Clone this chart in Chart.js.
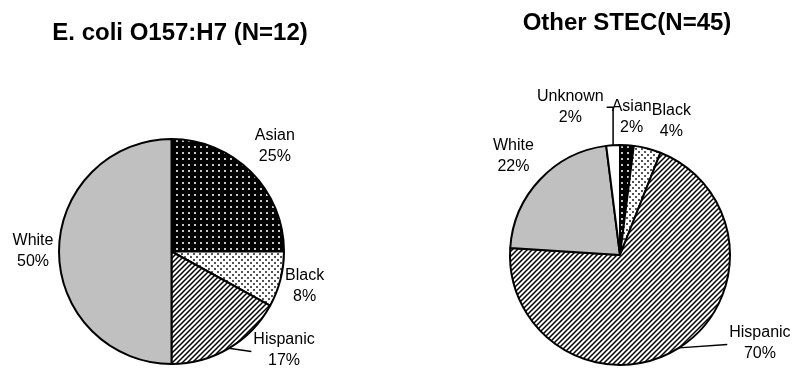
<!DOCTYPE html>
<html>
<head>
<meta charset="utf-8">
<script src="https://cdn.jsdelivr.net/npm/chart.js@4.4.0/dist/chart.umd.min.js"></script>
<style>
  html, body { margin: 0; padding: 0; background: #fff; }
  #wrap { position: relative; width: 794px; height: 370px; }
  canvas { position: absolute; top: 0; }
</style>
</head>
<body>
<div id="wrap">
  <canvas id="o157" width="397" height="370" style="left:0"></canvas>
  <canvas id="stec" width="397" height="370" style="left:397px"></canvas>
</div>
<script>
// E. coli O157:H7 (N=12)
const o157Title = "E. coli O157:H7 (N=12)";
const o157Labels = ["Asian", "Black", "Hispanic", "White"];
const o157Pct = [25, 8, 17, 50];

// Other STEC (N=45)
const stecTitle = "Other STEC(N=45)";
const stecLabels = ["Asian", "Black", "Hispanic", "White", "Unknown"];
const stecPct = [2, 4, 70, 22, 2];

const FONT = "'Liberation Sans', Arial, sans-serif";

// fill patterns like the old excel ones
function makePattern(kind) {
  const c = document.createElement("canvas");
  const x = c.getContext("2d");
  if (kind === "darkdots") {
    c.width = 6; c.height = 6;
    x.fillStyle = "#000"; x.fillRect(0, 0, 6, 6);
    x.fillStyle = "#c8c8c8"; x.fillRect(2, 2, 2, 2);
  } else if (kind === "lightdots") {
    c.width = 6; c.height = 6;
    x.fillStyle = "#fff"; x.fillRect(0, 0, 6, 6);
    x.fillStyle = "#555"; x.fillRect(1, 1, 2, 2); x.fillRect(4, 4, 2, 2);
  } else if (kind === "stripes") {
    c.width = 5; c.height = 5;
    x.fillStyle = "#fff"; x.fillRect(0, 0, 5, 5);
    x.strokeStyle = "#000"; x.lineWidth = 1.5;
    x.beginPath();
    x.moveTo(-1, 6); x.lineTo(6, -1);
    x.moveTo(-4, 4); x.lineTo(4, -4);
    x.moveTo(1, 9); x.lineTo(9, 1);
    x.stroke();
  }
  return x.createPattern(c, "repeat");
}

const pat = {
  asian: makePattern("darkdots"),
  black: makePattern("lightdots"),
  hispanic: makePattern("stripes"),
  white: "#c0c0c0",
  unknown: "#ffffff"
};

// labels, leader lines and title drawn on the canvas
const sliceLabels = {
  id: "sliceLabels",
  afterDatasetsDraw(chart, args, opts) {
    const ctx = chart.ctx;
    const arcs = chart.getDatasetMeta(0).data;
    const labels = chart.data.labels;
    const vals = chart.data.datasets[0].data;
    ctx.save();
    ctx.font = "16px " + FONT;
    ctx.fillStyle = "#000";
    ctx.strokeStyle = "#000";
    ctx.lineWidth = 1.5;
    ctx.textAlign = "center";
    ctx.textBaseline = "middle";
    arcs.forEach((arc, i) => {
      const mid = (arc.startAngle + arc.endAngle) / 2;
      const r = arc.outerRadius;
      const n = opts.nudge[i] || [0, 0];
      const lx = arc.x + Math.cos(mid) * (r + 28) + n[0];
      const ly = arc.y + Math.sin(mid) * (r + 28) + n[1];
      const t1 = labels[i], t2 = vals[i] + "%";
      ctx.fillText(t1, lx, ly - 10.5);
      ctx.fillText(t2, lx, ly + 10.5);
      const lead = opts.leaders[i];
      if (lead) {
        const w = Math.max(ctx.measureText(t1).width, ctx.measureText(t2).width) / 2;
        const ax = arc.x + Math.cos(mid) * r;
        const ay = arc.y + Math.sin(mid) * r;
        ctx.beginPath();
        ctx.moveTo(ax, ay);
        if (lead === "elbow") {
          ctx.lineTo(ax, ly);
          ctx.lineTo(lx + w + 3, ly);
        } else {
          ctx.lineTo(lx - w - 2, ly + 1);
        }
        ctx.stroke();
      }
    });
    const a = chart.chartArea;
    ctx.font = "bold 24px " + FONT;
    ctx.fillText(opts.title, (a.left + a.right) / 2 + opts.titleDx, opts.titleY);
    ctx.restore();
  }
};

function pieChart(id, labels, values, colors, padding, labelOpts) {
  return new Chart(document.getElementById(id), {
    type: "pie",
    data: {
      labels: labels,
      datasets: [{
        data: values,
        backgroundColor: colors,
        borderColor: "#000",
        borderWidth: 2,
        hoverOffset: 0
      }]
    },
    options: {
      responsive: false,
      animation: false,
      events: [],
      layout: { padding: padding },
      plugins: {
        legend: { display: false },
        tooltip: { enabled: false },
        sliceLabels: labelOpts
      }
    },
    plugins: [sliceLabels]
  });
}

pieChart("o157", o157Labels, o157Pct,
  [pat.asian, pat.black, pat.hispanic, pat.white],
  { left: 58, right: 112, top: 138, bottom: 5 },
  {
    title: o157Title, titleDx: 8.5, titleY: 33,
    nudge: [[4, -6], [-3, 0], [41, -22], [2, 0]],
    leaders: [null, null, "line", null]
  });

pieChart("stec", stecLabels, stecPct,
  [pat.asian, pat.black, pat.hispanic, pat.white, pat.unknown],
  { left: 112, right: 63, top: 144, bottom: 4 },
  {
    title: stecTitle, titleDx: 7, titleY: 23,
    nudge: [[3, 0], [17, 0], [66, -28], [-6, -4], [-41, -10]],
    leaders: [null, null, "line", null, "elbow"]
  });
</script>
</body>
</html>
